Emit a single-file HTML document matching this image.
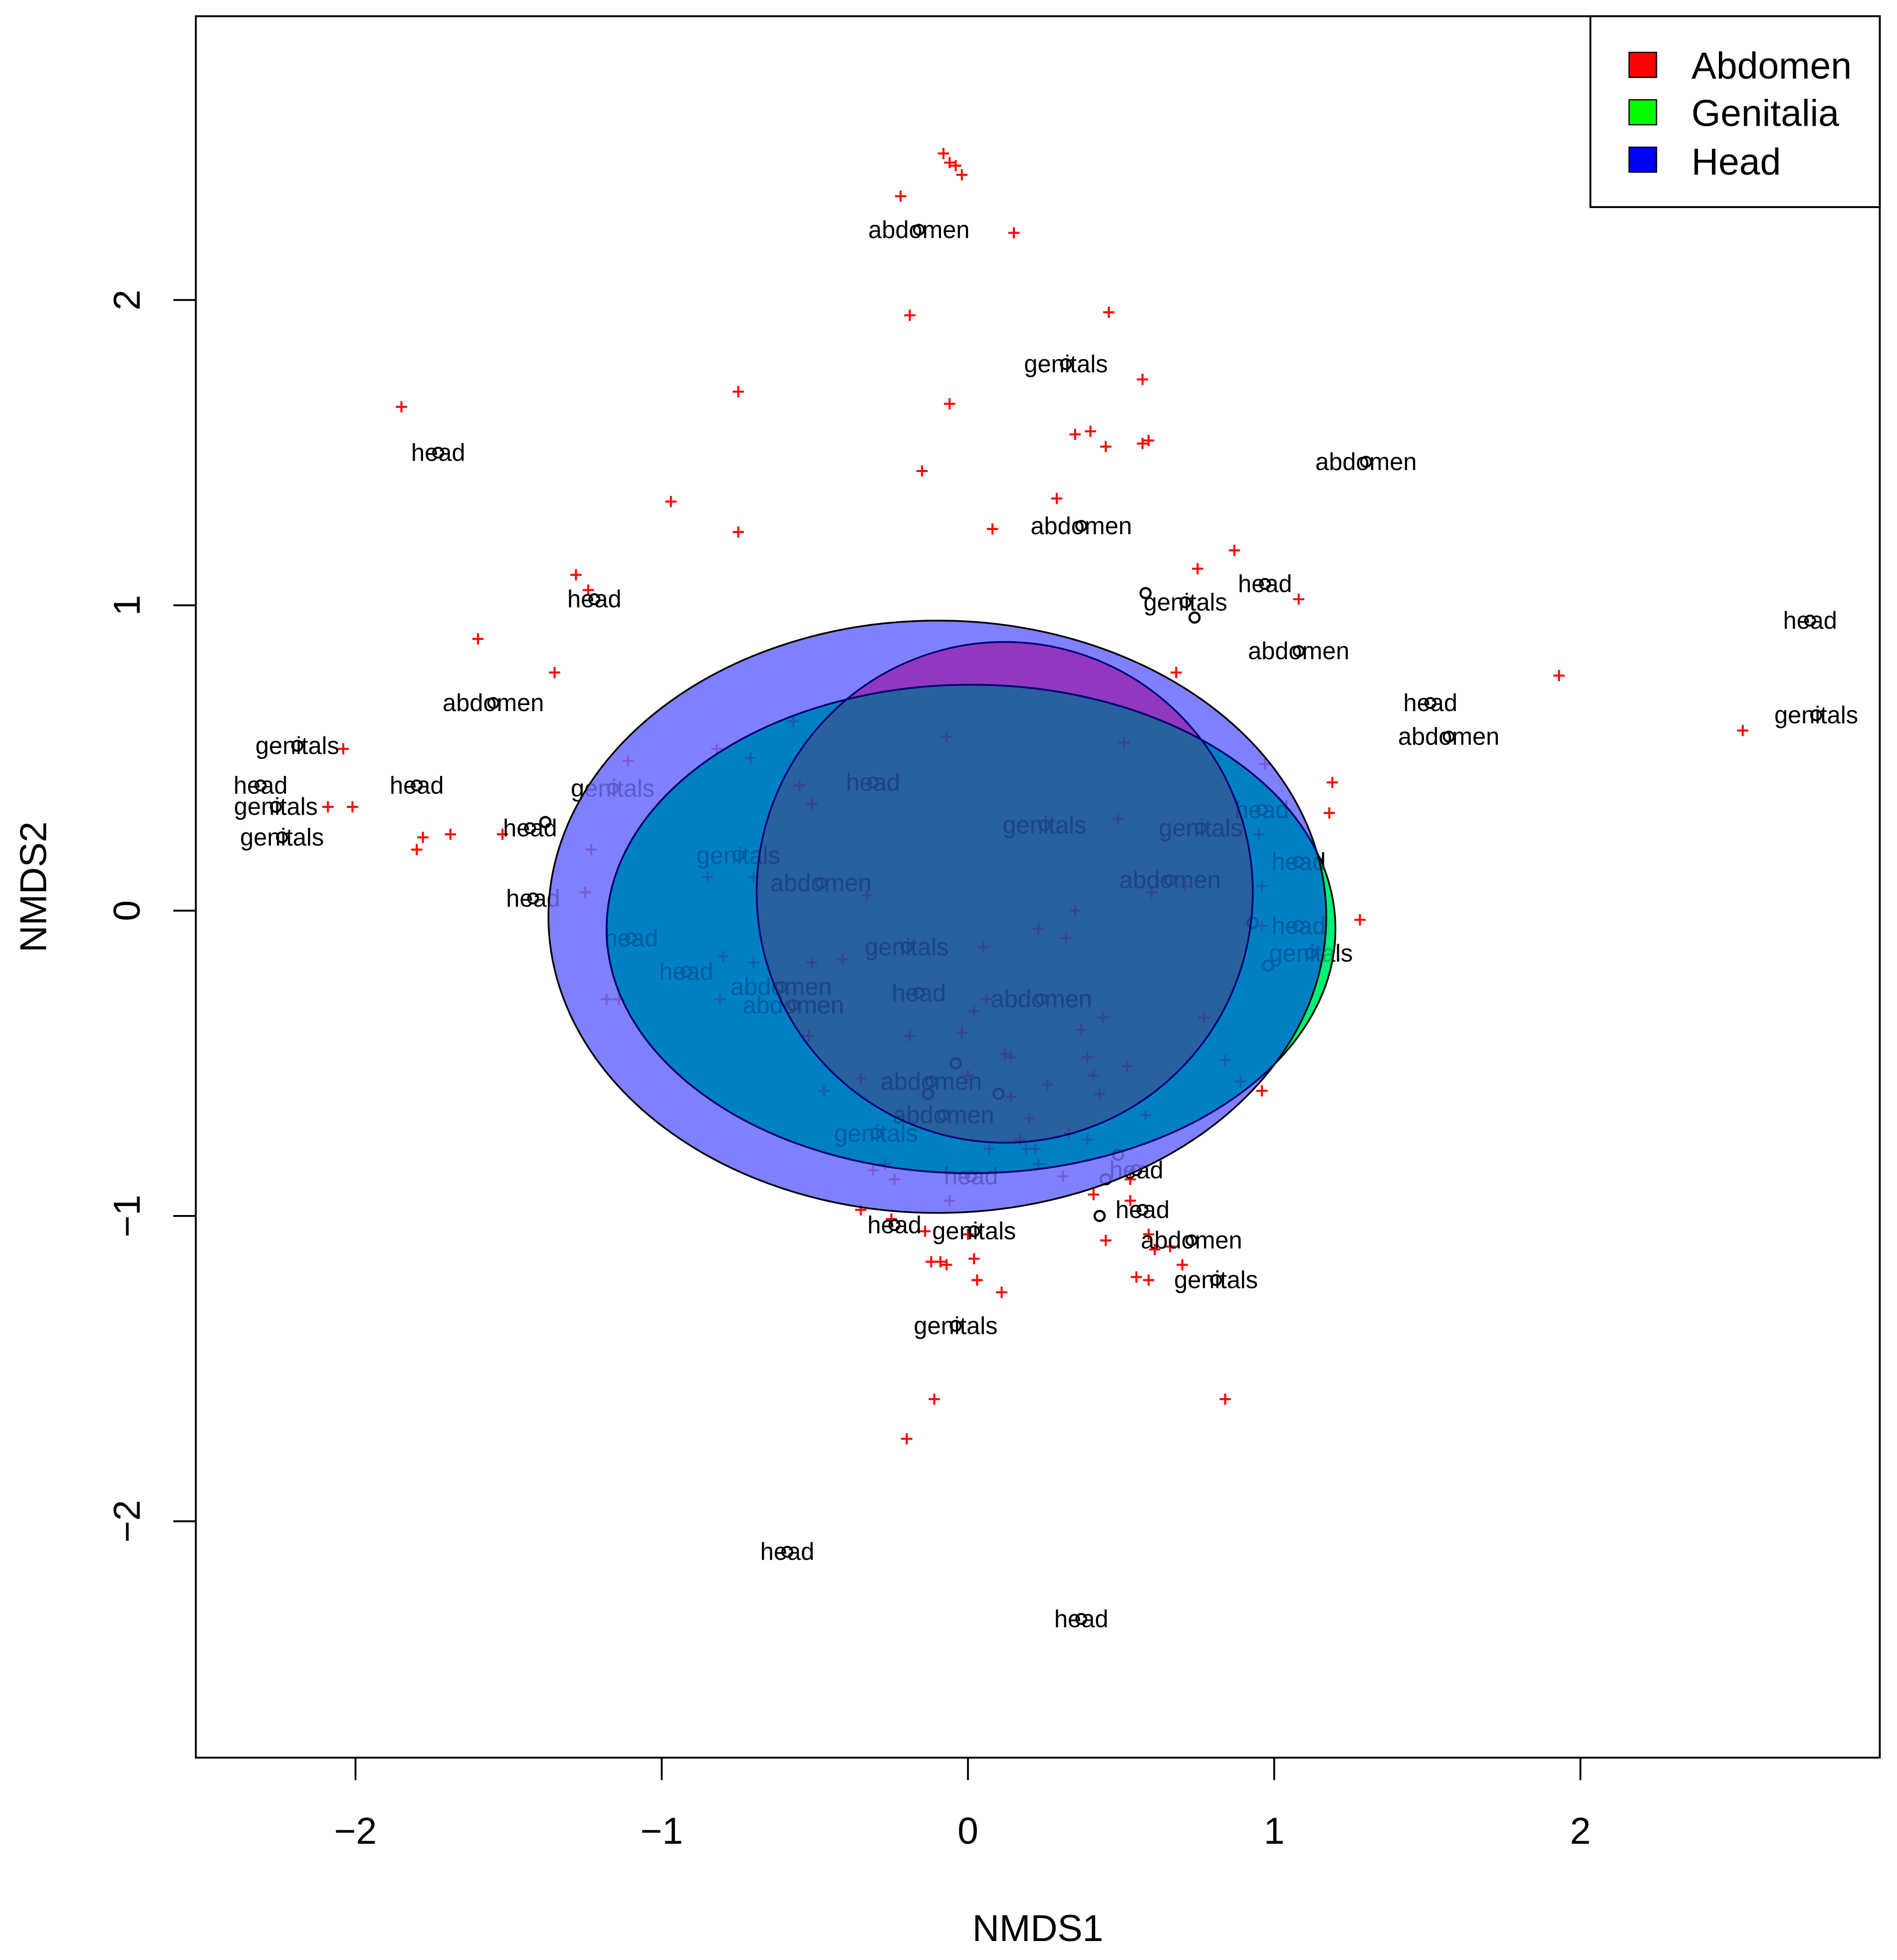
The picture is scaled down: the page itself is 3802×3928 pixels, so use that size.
<!DOCTYPE html>
<html><head><meta charset="utf-8"><style>html,body{margin:0;padding:0;background:#fff}svg{display:block}</style></head>
<body>
<svg id="chart" width="3802" height="3928" viewBox="0 0 1520.8 1571.2" xmlns="http://www.w3.org/2000/svg" font-family="Liberation Sans, Arial, sans-serif">
<defs>
<clipPath id="clipH"><ellipse id="cH"/></clipPath>
<clipPath id="clipG"><ellipse id="cG"/></clipPath>
<clipPath id="clipU"><ellipse id="uH"/><ellipse id="uG"/></clipPath>
</defs>
<rect width="1520.8" height="1571.2" fill="#fff"/>
<g id="marks"></g>
<g id="ellipses"></g>
<g id="marksOver" clip-path="url(#clipU)" opacity="0.28"></g>
<g id="ellipseStrokes"></g>
<rect x="157" y="13" width="1350" height="1396" fill="none" stroke="#000" stroke-width="1.5"/>
<g id="axes"></g>
<text x="832" y="1556" font-size="30" text-anchor="middle">NMDS1</text>
<text transform="translate(37,711) rotate(-90)" font-size="30" text-anchor="middle">NMDS2</text>
<g>
<rect x="1275" y="13" width="232" height="153" fill="#fff" stroke="#000" stroke-width="1.5"/>
<rect x="1306" y="42" width="22" height="20" fill="#ff0000" stroke="#000"/>
<text x="1356" y="63" font-size="30">Abdomen</text>
<rect x="1306" y="80" width="22" height="20" fill="#00ff00" stroke="#000"/>
<text x="1356" y="101" font-size="30">Genitalia</text>
<rect x="1306" y="118" width="22" height="20" fill="#0000ff" stroke="#000"/>
<text x="1356" y="140" font-size="30">Head</text>
</g>
</svg>
<script>
const xTicks = [-2, -1, 0, 1, 2];
const yTicks = [-2, -1, 0, 1, 2];
const siteLabels = ["abdomen","genitals","abdomen","head","abdomen","head","genitals","head","head","abdomen","abdomen","head","genitals","abdomen","genitals","head","head","genitals","head","genitals","head","genitals","genitals","head","genitals","genitals","head","abdomen","abdomen","head","head","head","genitals","genitals","head","abdomen","head","abdomen","abdomen","abdomen","abdomen","genitals","head","head","head","head","genitals","abdomen","genitals","genitals","head","head"];
const siteX = [-0.16,0.32,1.30,-1.73,0.37,0.97,0.71,-1.22,2.75,1.08,-1.55,1.51,2.77,1.57,-2.19,-2.31,-1.80,-1.16,-0.31,-2.26,0.96,0.25,0.76,-1.43,-2.24,-0.75,1.08,-0.48,0.66,-1.42,1.08,-1.10,-0.20,1.12,-0.92,-0.61,-0.16,0.24,-0.57,-0.12,-0.08,-0.30,0.01,0.55,0.57,-0.24,0.02,0.73,0.81,-0.04,-0.59,0.37];
const siteY = [2.23,1.79,1.47,1.50,1.26,1.07,1.01,1.02,0.95,0.85,0.68,0.68,0.64,0.57,0.54,0.41,0.41,0.40,0.42,0.34,0.33,0.28,0.27,0.27,0.24,0.18,0.16,0.09,0.10,0.04,-0.05,-0.09,-0.12,-0.14,-0.20,-0.25,-0.27,-0.29,-0.31,-0.56,-0.67,-0.73,-0.87,-0.85,-0.98,-1.03,-1.05,-1.08,-1.21,-1.36,-2.10,-2.32];
const extraX = [0.58,0.74,-0.04,-0.13,0.10,0.49,0.45,0.43,0.93,0.98,-1.38];
const extraY = [1.04,0.96,-0.50,-0.60,-0.60,-0.80,-0.88,-1.00,-0.04,-0.18,0.29];
const speciesX = [-0.08,-0.06,-0.04,-0.02,-0.22,0.15,-0.19,0.46,-0.75,0.57,-0.06,-1.85,0.35,0.40,0.45,0.59,0.57,-0.15,-0.97,0.29,-0.75,0.08,0.87,0.75,-1.28,-1.24,1.08,-1.60,-1.35,0.68,1.93,-2.04,-0.82,-0.71,-0.07,-0.57,0.97,1.19,-0.55,-0.51,0.51,-1.11,-2.09,-2.01,1.18,0.49,0.95,-1.69,-1.78,-1.52,-1.80,-1.23,-0.85,-0.70,0.96,-1.25,0.71,0.60,-0.33,1.28,0.35,0.23,0.32,-0.41,-0.51,-0.70,-0.80,0.05,0.96,-1.18,-1.14,-0.81,-0.52,-0.19,-0.02,0.02,0.06,0.37,0.44,0.77,0.12,0.14,0.39,0.52,0.84,-0.35,0.00,0.26,0.41,0.43,-0.47,0.14,0.20,0.33,0.17,0.19,0.22,0.07,0.39,0.58,0.96,0.89,-0.31,-0.27,-0.24,0.31,0.23,0.53,0.41,-0.06,-0.35,-0.25,-0.14,0.53,0.45,0.59,0.61,0.66,0.00,-0.09,-0.12,-0.07,0.02,0.03,0.11,0.70,0.59,0.55,0.84,-0.11,-0.20,2.53];
const speciesY = [2.48,2.45,2.44,2.41,2.34,2.22,1.95,1.96,1.70,1.74,1.66,1.65,1.56,1.57,1.52,1.54,1.53,1.44,1.34,1.35,1.24,1.25,1.18,1.12,1.10,1.05,1.02,0.89,0.78,0.78,0.77,0.53,0.53,0.50,0.57,0.62,0.48,0.42,0.41,0.35,0.55,0.49,0.34,0.34,0.32,0.30,0.25,0.25,0.24,0.25,0.20,0.20,0.11,0.11,0.08,0.06,0.08,0.06,0.05,-0.03,0.00,-0.06,-0.09,-0.16,-0.17,-0.17,-0.15,-0.12,-0.05,-0.29,-0.29,-0.29,-0.41,-0.41,-0.40,-0.33,-0.29,-0.39,-0.35,-0.35,-0.47,-0.48,-0.48,-0.51,-0.49,-0.55,-0.54,-0.57,-0.54,-0.60,-0.59,-0.61,-0.68,-0.73,-0.75,-0.78,-0.78,-0.78,-0.75,-0.67,-0.59,-0.56,-0.85,-0.83,-0.88,-0.87,-0.83,-0.88,-0.93,-0.95,-0.98,-1.01,-1.05,-0.95,-1.08,-1.06,-1.11,-1.10,-1.06,-1.15,-1.15,-1.16,-1.14,-1.21,-1.25,-1.16,-1.21,-1.20,-1.60,-1.60,-1.73,0.59];
// groups: abdomen, genitalia, head
const groupNames = ["abdomen","genitalia","head"];
const groupCX = [0.12, 0.01, -0.10];
const groupCY = [0.06, -0.06, -0.02];
const groupRX = [0.81, 1.19, 1.27];
const groupRY = [0.82, 0.80, 0.97];

const NS = "http://www.w3.org/2000/svg";
const sx = v => 776 + v * 245.5;
const sy = v => 730 - v * 244.75;
const mk = (tag, attrs, parent) => { const e = document.createElementNS(NS, tag); for (const k in attrs) e.setAttribute(k, attrs[k]); parent.appendChild(e); return e; };
const eAttr = i => ({cx: sx(groupCX[i]), cy: sy(groupCY[i]), rx: groupRX[i] * 245.5, ry: groupRY[i] * 244.75});

const axes = document.getElementById('axes');
xTicks.forEach(t => {
  const l = mk('line', {x1: sx(t), x2: sx(t), y1: 1409, y2: 1427, stroke: '#000', 'stroke-width': 1.5}, axes);
  
  
  const tx = mk('text', {x: sx(t), y: 1478, 'font-size': 30, 'text-anchor': 'middle'}, axes);
  tx.textContent = t < 0 ? '\u2212' + Math.abs(t) : String(t);
  
  
});
yTicks.forEach(t => {
  const l = mk('line', {x1: 139, x2: 157, y1: sy(t), y2: sy(t), stroke: '#000', 'stroke-width': 1.5}, axes);
  
  
  const tx = mk('text', {transform: `translate(112,${sy(t)}) rotate(-90)`, 'font-size': 30, 'text-anchor': 'middle'}, axes);
  tx.textContent = t < 0 ? '\u2212' + Math.abs(t) : String(t);
  
  
});

function drawMarks(parent, over) {
  speciesX.forEach((x, i) => {
    const px = sx(x), py = sy(speciesY[i]);
    const p = mk('path', {d: `M${px-4.5},${py}H${px+4.5}M${px},${py-4.5}V${py+4.5}`, stroke: over ? '#600060' : '#ff0000', 'stroke-width': 1.6, fill: 'none'}, parent);
    
    
  });
  extraX.forEach((x, i) => {
    const c = mk('circle', {cx: sx(x), cy: sy(extraY[i]), r: 4, fill: 'none', stroke: over ? '#000040' : '#000', 'stroke-width': 1.8}, parent);
    
    
  });
  siteX.forEach((x, i) => {
    const c = mk('circle', {cx: sx(x), cy: sy(siteY[i]), r: 4, fill: 'none', stroke: over ? '#000040' : '#000', 'stroke-width': 1.6}, parent);
    
    
    const t = mk('text', {x: sx(x), y: sy(siteY[i]) + 6.5, 'font-size': 19.5, 'text-anchor': 'middle', fill: over ? '#000040' : '#000'}, parent);
    t.textContent = siteLabels[i];
    
    
  });
}
drawMarks(document.getElementById('marks'), false);
drawMarks(document.getElementById('marksOver'), true);

[['cH',2],['uH',2],['cG',1],['uG',1]].forEach(([id, i]) => { const el = document.getElementById(id); const a = eAttr(i); for (const k in a) el.setAttribute(k, a[k]); });

const ell = document.getElementById('ellipses');
const gG = mk('ellipse', Object.assign(eAttr(1), {fill: '#00f078'}), ell);


const gH = mk('ellipse', Object.assign(eAttr(2), {fill: '#8080ff'}), ell);


const gHG = mk('ellipse', Object.assign(eAttr(1), {fill: '#0080c4', 'clip-path': 'url(#clipH)'}), ell);


const gA = mk('ellipse', Object.assign(eAttr(0), {fill: '#9038c0', 'clip-path': 'url(#clipH)'}), ell);


const wrap = mk('g', {'clip-path': 'url(#clipG)'}, ell);
const gAll = mk('ellipse', Object.assign(eAttr(0), {fill: '#2860a0', 'clip-path': 'url(#clipH)'}), wrap);



const st = document.getElementById('ellipseStrokes');
const sG = mk('ellipse', Object.assign(eAttr(1), {fill: 'none', stroke: '#000', 'stroke-width': 1.4}), st);


const sH = mk('ellipse', Object.assign(eAttr(2), {fill: 'none', stroke: '#000', 'stroke-width': 1.4}), st);


const sG2 = mk('ellipse', Object.assign(eAttr(1), {fill: 'none', stroke: '#000070', 'stroke-width': 1.4, 'clip-path': 'url(#clipH)'}), st);


const sA = mk('ellipse', Object.assign(eAttr(0), {fill: 'none', stroke: '#000070', 'stroke-width': 1.4}), st);


</script>
</body></html>
